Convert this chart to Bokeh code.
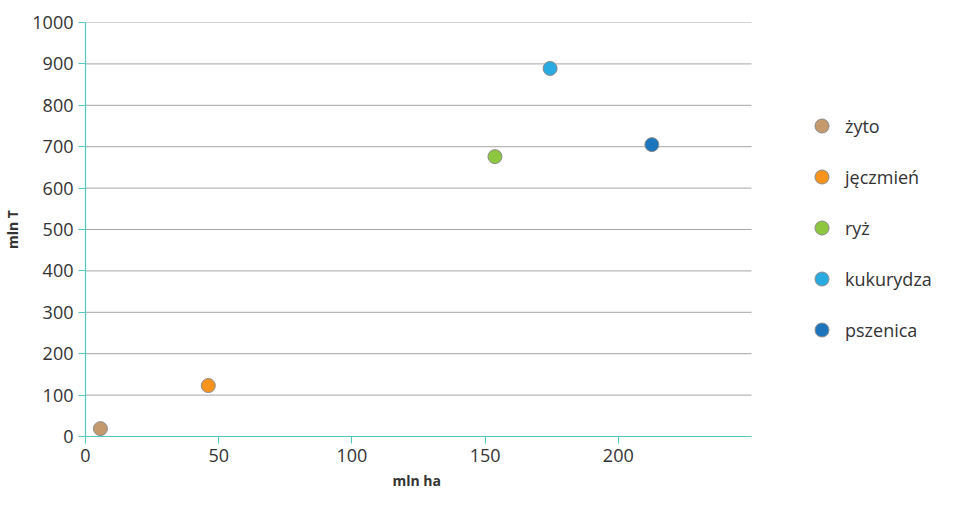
from bokeh.plotting import figure
from bokeh.models import Range1d, FixedTicker, Legend, LegendItem, Title
from bokeh.embed import file_html
from bokeh.resources import INLINE

categories = ["żyto", "jęczmień", "ryż", "kukurydza", "pszenica"]
area_mln_ha = [5.6, 46.1, 153.7, 174.4, 212.6]
yield_mln_t = [19, 123, 676, 889, 705]
colors = ["#C4996C", "#F7941D", "#8DC63F", "#29ABE2", "#1C75BC"]
x_ticks = [0, 50, 100, 150, 200]
y_ticks = [0, 100, 200, 300, 400, 500, 600, 700, 800, 900, 1000]
x_axis_max = 250

FONT = "Open Sans"
TEAL = "#55C8C0"
TXT = "#333333"

# frame spans to the right edge so the legend sits inside it; axis/grid limited to 0..250
FRAME_W = 875
AXIS_W = 666
x_view_end = x_axis_max * FRAME_W / AXIS_W

p = figure(width=960, height=509, output_backend="svg", toolbar_location=None,
           x_range=Range1d(0, x_view_end), y_range=Range1d(0, 1000),
           min_border_left=85, min_border_top=22, min_border_right=0, min_border_bottom=73)
p.outline_line_color = None
p.background_fill_color = "white"
p.border_fill_color = "white"

for ax in (p.xaxis[0], p.yaxis[0]):
    ax.axis_line_color = TEAL
    ax.axis_line_width = 1.2
    ax.major_tick_line_color = TEAL
    ax.major_tick_out = 7
    ax.major_tick_in = 0
    ax.minor_tick_line_color = None
    ax.major_label_text_font = FONT
    ax.major_label_text_font_size = "18px"
    ax.major_label_text_color = TXT

p.xaxis.bounds = (0, x_axis_max)
p.xaxis.ticker = FixedTicker(ticks=x_ticks)
p.yaxis.ticker = FixedTicker(ticks=y_ticks)
p.yaxis.axis_label = "mln T"
p.yaxis.axis_label_text_font = FONT
p.yaxis.axis_label_text_font_size = "14px"
p.yaxis.axis_label_text_font_style = "bold"
p.yaxis.axis_label_text_color = TXT
p.xaxis.major_label_standoff = 5
p.yaxis.major_label_standoff = 5
p.yaxis.axis_label_standoff = 7

p.add_layout(Title(text="mln ha", align="left", offset=307, standoff=9,
                   text_font=FONT, text_font_size="14px", text_font_style="bold",
                   text_color=TXT), "below")

# horizontal grid lines, limited to the axis extent
p.xgrid.grid_line_color = None
p.ygrid.grid_line_color = None
grid_y = y_ticks[1:]
p.segment(x0=[0] * len(grid_y), x1=[x_axis_max] * len(grid_y), y0=grid_y, y1=grid_y,
          line_color="#A6A6A6", line_width=1)

items = []
for cat, xv, yv, c in zip(categories, area_mln_ha, yield_mln_t, colors):
    r = p.scatter([xv], [yv], size=14, fill_color=c, line_color="#8A8A8A", line_width=1)
    items.append(LegendItem(label=cat, renderers=[r]))

legend = Legend(items=items, location=(719, 89), orientation="vertical",
                glyph_width=35, glyph_height=35, label_height=35, label_standoff=6,
                spacing=16, padding=0, margin=0,
                border_line_color=None, background_fill_alpha=0,
                label_text_font=FONT, label_text_font_size="18px", label_text_color=TXT)
p.add_layout(legend, "center")

open("out.html", "w").write(file_html(p, INLINE))
